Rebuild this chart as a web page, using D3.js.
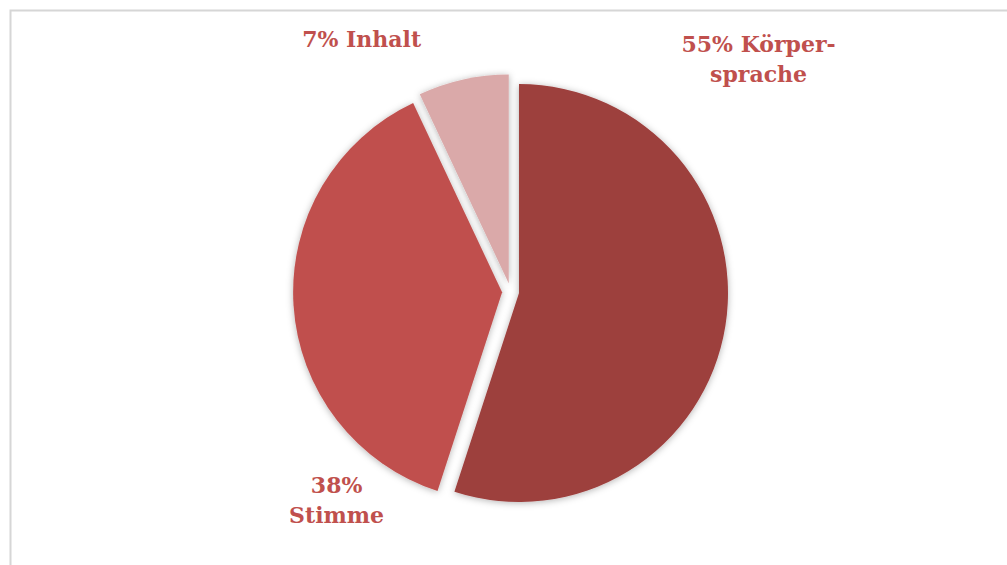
<!DOCTYPE html>
<html>
<head>
<meta charset="utf-8">
<script src="https://cdn.jsdelivr.net/npm/d3@7"></script>
<style>
  html, body { margin: 0; padding: 0; background: #fff; }
  svg { display: block; }
</style>
</head>
<body>
<svg id="chart" width="1007" height="565"></svg>
<script>
// Anteile der Wirkung in der Kommunikation
const categories = ["Körpersprache", "Stimme", "Inhalt"];
const values = [55, 38, 7];
const labelLines = [["55% Körper-", "sprache"], ["38%", "Stimme"], ["7% Inhalt"]];
const colors = ["#9D3F3D", "#C0504E", "#DAA9A9"];

const W = 1007, H = 565;
const cx = 510.6, cy = 291.7, radius = 209, explode = 8.5;

// label centre offsets from the pie centre (dx, dy of first baseline)
const labelOffsets = [[248, -240], [-174, 201], [-149, -245]];

const svg = d3.select("#chart");

// chart frame (top and left edges visible)
svg.append("rect")
  .attr("x", 10.5).attr("y", 10.5)
  .attr("width", W + 20).attr("height", H + 20)
  .attr("fill", "#fff")
  .attr("stroke", "#D6D6D6")
  .attr("stroke-width", 2);

const defs = svg.append("defs");
const f = defs.append("filter").attr("id", "soft")
  .attr("x", "-20%").attr("y", "-20%").attr("width", "140%").attr("height", "140%");
f.append("feDropShadow")
  .attr("dx", 0).attr("dy", 1)
  .attr("stdDeviation", 3.5)
  .attr("flood-color", "#000")
  .attr("flood-opacity", 0.3);

const pie = d3.pie().sort(null).value(d => d).startAngle(0).endAngle(2 * Math.PI);
const arcs = pie(values);
const arc = d3.arc().innerRadius(0).outerRadius(radius);

const g = svg.append("g").attr("transform", `translate(${cx},${cy})`);

g.selectAll("path.slice")
  .data(arcs)
  .join("path")
  .attr("class", "slice")
  .attr("d", arc)
  .attr("fill", (d, i) => colors[i])
  .attr("filter", "url(#soft)")
  .attr("transform", d => {
    const a = (d.startAngle + d.endAngle) / 2;
    return `translate(${explode * Math.sin(a)},${-explode * Math.cos(a)})`;
  });

const labels = g.selectAll("text.lbl")
  .data(arcs)
  .join("text")
  .attr("class", "lbl")
  .attr("text-anchor", "middle")
  .attr("font-family", "'DejaVu Serif', serif")
  .attr("font-weight", "bold")
  .attr("font-size", 22)
  .attr("fill", "#C0504D")
  .attr("x", (d, i) => labelOffsets[i][0])
  .attr("y", (d, i) => labelOffsets[i][1]);

labels.each(function (d, i) {
  const t = d3.select(this);
  labelLines[i].forEach((line, k) => {
    t.append("tspan")
      .attr("x", labelOffsets[i][0])
      .attr("dy", k === 0 ? 0 : 30)
      .text(line);
  });
});
</script>
</body>
</html>
